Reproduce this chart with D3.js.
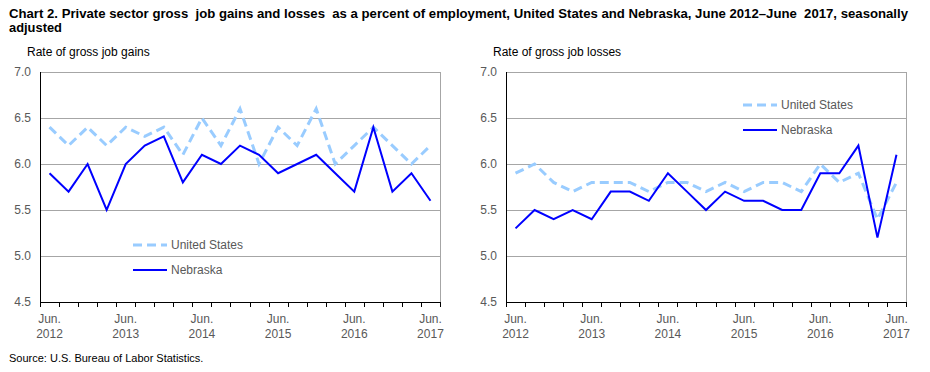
<!DOCTYPE html>
<html>
<head>
<meta charset="utf-8">
<script src="https://cdn.jsdelivr.net/npm/d3@7"></script>
<style>
  body { margin: 0; background: #fff; }
  svg { font-family: "Liberation Sans", Arial, sans-serif; }
  .title { white-space: pre; }
</style>
</head>
<body>
<svg width="930" height="372"></svg>
<script>
var svg = d3.select("svg");

// quarterly, Jun 2012 .. Jun 2017
var quarters = ["Jun 2012","Sep 2012","Dec 2012","Mar 2013","Jun 2013","Sep 2013","Dec 2013","Mar 2014",
  "Jun 2014","Sep 2014","Dec 2014","Mar 2015","Jun 2015","Sep 2015","Dec 2015","Mar 2016",
  "Jun 2016","Sep 2016","Dec 2016","Mar 2017","Jun 2017"];
var tickLabels = ["Jun 2012","Jun 2013","Jun 2014","Jun 2015","Jun 2016","Jun 2017"];
var yTicks = [4.5, 5.0, 5.5, 6.0, 6.5, 7.0];

var gainsUS = [6.4,6.2,6.4,6.2,6.4,6.3,6.4,6.1,6.5,6.2,6.6,6.0,6.4,6.2,6.6,6.0,6.2,6.4,6.2,6.0,6.2];
var gainsNE = [5.9,5.7,6.0,5.5,6.0,6.2,6.3,5.8,6.1,6.0,6.2,6.1,5.9,6.0,6.1,5.9,5.7,6.4,5.7,5.9,5.6];
var lossesUS = [5.9,6.0,5.8,5.7,5.8,5.8,5.8,5.7,5.8,5.8,5.7,5.8,5.7,5.8,5.8,5.7,6.0,5.8,5.9,5.4,5.8];
var lossesNE = [5.3,5.5,5.4,5.5,5.4,5.7,5.7,5.6,5.9,5.7,5.5,5.7,5.6,5.6,5.5,5.5,5.9,5.9,6.2,5.2,6.1];

var usColor = "#99ccff", neColor = "#0000ff", gridColor = "#a6a6a6", labelColor = "#595959";

svg.append("text")
  .attr("class", "title")
  .attr("x", 9).attr("y", 18)
  .attr("font-size", 13).attr("font-weight", "bold")
  .attr("textLength", 899).attr("lengthAdjust", "spacingAndGlyphs")
  .text("Chart 2. Private sector gross  job gains and losses  as a percent of employment, United States and Nebraska, June 2012\u2013June  2017, seasonally");
svg.append("text")
  .attr("x", 9).attr("y", 32)
  .attr("font-size", 13).attr("font-weight", "bold")
  .attr("textLength", 53).attr("lengthAdjust", "spacingAndGlyphs")
  .text("adjusted");

svg.append("text")
  .attr("x", 9).attr("y", 362)
  .attr("font-size", 11)
  .text("Source: U.S. Bureau of Labor Statistics.");

var y = d3.scaleLinear().domain([4.5, 7.0]).range([302, 72]);

function panel(left, title, us, ne, legendPos) {
  var x = d3.scaleBand().domain(quarters).range([left, left + 400]);
  var g = svg.append("g");

  g.append("text")
    .attr("x", left - 13).attr("y", 56)
    .attr("font-size", 12)
    .text(title);

  // gridlines
  g.selectAll(".grid").data(yTicks.slice(1)).enter().append("line")
    .attr("x1", left).attr("x2", left + 400)
    .attr("y1", function(d) { return Math.round(y(d)) + 0.5; })
    .attr("y2", function(d) { return Math.round(y(d)) + 0.5; })
    .attr("stroke", gridColor);
  g.append("line")
    .attr("x1", left + 400.5).attr("x2", left + 400.5)
    .attr("y1", y(7)).attr("y2", y(4.5))
    .attr("stroke", gridColor);

  // y labels
  g.selectAll(".ylab").data(yTicks).enter().append("text")
    .attr("x", left - 9).attr("y", function(d) { return y(d) + 4; })
    .attr("text-anchor", "end")
    .attr("font-size", 12).attr("fill", labelColor)
    .text(function(d) { return d.toFixed(1); });

  // axes
  g.append("line")
    .attr("x1", left + 0.5).attr("x2", left + 0.5)
    .attr("y1", y(7)).attr("y2", y(4.5) + 0.5)
    .attr("stroke", "#000");
  g.append("line")
    .attr("x1", left).attr("x2", left + 401)
    .attr("y1", Math.round(y(4.5)) + 0.5).attr("y2", Math.round(y(4.5)) + 0.5)
    .attr("stroke", "#000");
  var bounds = quarters.map(function(q) { return x(q); }).concat([left + 400]);
  g.selectAll(".tick").data(bounds).enter().append("line")
    .attr("x1", function(d) { return Math.round(d) + 0.5; })
    .attr("x2", function(d) { return Math.round(d) + 0.5; })
    .attr("y1", y(4.5)).attr("y2", y(4.5) + 5)
    .attr("stroke", "#000");

  var xl = g.selectAll(".xlab").data(tickLabels).enter().append("text")
    .attr("text-anchor", "middle")
    .attr("font-size", 12).attr("fill", labelColor);
  xl.append("tspan")
    .attr("x", function(d) { return x(d) + x.bandwidth() / 2; })
    .attr("y", 323)
    .text("Jun.");
  xl.append("tspan")
    .attr("x", function(d) { return x(d) + x.bandwidth() / 2; })
    .attr("y", 338)
    .text(function(d) { return d.split(" ")[1]; });

  var line = d3.line()
    .x(function(d, i) { return x(quarters[i]) + x.bandwidth() / 2; })
    .y(function(d) { return y(d); });

  g.append("path").datum(us)
    .attr("d", line)
    .attr("fill", "none")
    .attr("stroke", usColor)
    .attr("stroke-width", 3)
    .attr("stroke-dasharray", "9,5");
  g.append("path").datum(ne)
    .attr("d", line)
    .attr("fill", "none")
    .attr("stroke", neColor)
    .attr("stroke-width", 2)
    .attr("stroke-linejoin", "miter");

  // legend
  var lg = g.append("g").attr("transform", "translate(" + legendPos[0] + "," + legendPos[1] + ")");
  lg.append("line").attr("x1", 0).attr("x2", 34).attr("y1", 0).attr("y2", 0)
    .attr("stroke", usColor).attr("stroke-width", 3).attr("stroke-dasharray", "9,5");
  lg.append("text").attr("x", 38).attr("y", 4).attr("font-size", 12).attr("fill", labelColor).text("United States");
  lg.append("line").attr("x1", 0).attr("x2", 34).attr("y1", 25).attr("y2", 25)
    .attr("stroke", neColor).attr("stroke-width", 2);
  lg.append("text").attr("x", 38).attr("y", 29).attr("font-size", 12).attr("fill", labelColor).text("Nebraska");
}

panel(40, "Rate of gross job gains", gainsUS, gainsNE, [133, 245]);
panel(506, "Rate of gross job losses", lossesUS, lossesNE, [743, 105]);
</script>
</body>
</html>
